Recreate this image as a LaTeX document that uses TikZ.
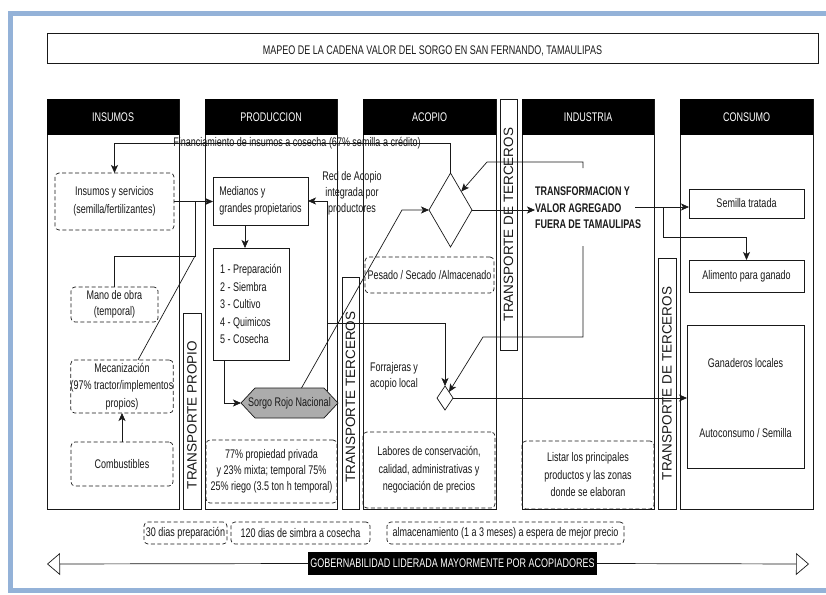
\documentclass[tikz,border=0pt]{standalone}
\usepackage{fontspec}
\setmainfont{Liberation Sans}[FakeStretch=0.72]
\newfontfamily\widefont{Liberation Sans}
\usetikzlibrary{arrows.meta,shapes.geometric}
\definecolor{frameblue}{RGB}{148,178,216}
\definecolor{ink}{RGB}{25,25,25}
\definecolor{hexfill}{RGB}{172,172,172}
\begin{document}
\begin{tikzpicture}[x=1pt,y=-1pt,
  every node/.style={font=\fontsize{12.5}{17.5}\selectfont, inner sep=0pt, outer sep=0pt, text=ink},
  colbox/.style={draw=ink, line width=.7pt, anchor=north west, minimum height=410pt},
  hdr/.style={fill=black, text=white, anchor=north west, minimum height=36pt},
  tbox/.style={draw=ink, line width=.7pt, anchor=north west},
  dbox/.style={draw=ink, line width=.7pt, dash pattern=on 4pt off 2.5pt, rounded corners=4pt},
  sbox/.style={draw=ink, line width=.7pt},
  conn/.style={draw=ink, line width=.7pt},
  flow/.style={draw=ink, line width=.7pt, -{Stealth[length=8pt,width=7pt,inset=2pt]}},
  gar/.style={draw=ink, line width=.7pt, -{Triangle[open,length=13pt,width=22pt]}},
  vtxt/.style={rotate=90, font=\widefont\fontsize{13.5}{13.5}\selectfont},
  dia/.style={diamond, draw=ink, line width=.7pt}
]
\useasboundingbox (0,0) rectangle (826,594);
\fill[white] (0,0) rectangle (826,594);
\draw[frameblue, line width=4.5pt] (826,13.5) -| (10.5,590.5) -- (826,590.5);

% title
\node[tbox, minimum width=771pt, minimum height=30pt] (title) at (47,33) {};
\node (titletxt) at (432.5,51) {MAPEO DE LA CADENA VALOR DEL SORGO EN SAN FERNANDO, TAMAULIPAS};

% columns
\node[colbox, minimum width=132pt] (cIns) at (47,99) {};
\node[hdr, minimum width=132pt] (hIns) at (47,99) {INSUMOS};
\node[colbox, minimum width=132pt] (cPro) at (205,99) {};
\node[hdr, minimum width=132pt] (hPro) at (205,99) {PRODUCCION};
\node[colbox, minimum width=133pt] (cAco) at (363,99) {};
\node[hdr, minimum width=133pt] (hAco) at (363,99) {ACOPIO};
\node[colbox, minimum width=132pt] (cInd) at (522,99) {};
\node[hdr, minimum width=132pt] (hInd) at (522,99) {INDUSTRIA};
\node[colbox, minimum width=133pt] (cCon) at (680,99) {};
\node[hdr, minimum width=133pt] (hCon) at (680,99) {CONSUMO};

% transport bars
\node[tbox, minimum width=18pt, minimum height=196pt] (tProp) at (183,313) {};
\node[vtxt] at ([yshift=-4pt]tProp.center) {TRANSPORTE PROPIO};
\node[tbox, minimum width=17pt, minimum height=232pt] (tTer) at (342,277) {};
\node[vtxt] at ([yshift=-4pt]tTer.center) {TRANSPORTE TERCEROS};
\node[tbox, minimum width=17pt, minimum height=251pt] (tDeT1) at (500,99) {};
\node[vtxt] at (tDeT1.center) {TRANSPORTE DE TERCEROS};
\node[tbox, minimum width=18pt, minimum height=251pt] (tDeT2) at (658,258) {};
\node[vtxt] at (tDeT2.center) {TRANSPORTE DE TERCEROS};

% insumos
\node[dbox, minimum width=119pt, minimum height=57pt, align=center] (insumos) at (114.5,201.5) {Insumos y servicios\\(semilla/fertilizantes)};
\node[dbox, minimum width=87pt, minimum height=35pt, align=center, font=\fontsize{12.5}{16}\selectfont] (mano) at (114.5,304.5) {Mano de obra\\(temporal)};
\node[dbox, minimum width=102pt, minimum height=53pt, align=center] (mecan) at (122,386.5) {Mecanización\\(97\% tractor/implementos\\propios)};
\node[dbox, minimum width=102pt, minimum height=44pt] (comb) at (122,464) {Combustibles};

% produccion
\node[sbox, minimum width=95pt, minimum height=48pt, align=left] (medianos) at (260.5,201) {Medianos y\\grandes propietarios};
\node[sbox, minimum width=76pt, minimum height=112pt, align=left] (pasos) at (251,304) {1 - Preparación\\2 - Siembra\\3 - Cultivo\\4 - Quimicos\\5 - Cosecha};
\node[minimum width=69pt, minimum height=30pt] (sorgo) at (289.5,403) {};
\draw[fill=hexfill, draw=ink, line width=.7pt] ([xshift=-14pt]sorgo.west) -- (sorgo.north west) -- (sorgo.north east) -- ([xshift=14pt]sorgo.east) -- (sorgo.south east) -- (sorgo.south west) -- cycle;
\node (sorgotxt) at (sorgo.center) {Sorgo Rojo Nacional};
\node[dbox, minimum width=131pt, minimum height=63pt, align=center, font=\fontsize{12.5}{16}\selectfont] (p77) at (271.5,471.5) {77\% propiedad privada\\y 23\% mixta; temporal 75\%\\25\% riego (3.5 ton h temporal)};
\node[align=center, font=\fontsize{12.5}{16}\selectfont] (red) at (352,193) {Red de Acopio\\integrada por\\productores};

% acopio
\node[dia, minimum width=43pt, minimum height=74pt] (d1) at (450.5,210) {};
\node[dbox, minimum width=129pt, minimum height=36pt] (pesado) at (429.5,275) {Pesado / Secado /Almacenado};
\node[align=center, font=\fontsize{12.5}{16}\selectfont] (forr) at (394,376) {Forrajeras y\\acopio local};
\node[dia, minimum width=16pt, minimum height=24pt] (d2) at (445,398) {};
\node[dbox, minimum width=132pt, minimum height=76pt, align=center] (labores) at (429,470) {Labores de conservación,\\calidad, administrativas y\\negociación de precios};

% industria
\node[font=\bfseries\fontsize{12.5}{16.5}\selectfont, align=left, anchor=west] (transf) at (535,208) {TRANSFORMACION Y\\VALOR AGREGADO\\FUERA DE TAMAULIPAS};
\node[dbox, minimum width=132pt, minimum height=68pt, align=center] (listar) at (588,475) {Listar los principales\\productos y las zonas\\donde se elaboran};

% consumo
\node[sbox, minimum width=115pt, minimum height=29pt] (semilla) at (746.5,203.5) {Semilla tratada};
\node[sbox, minimum width=115pt, minimum height=32pt] (alimento) at (746.5,276) {Alimento para ganado};
\node[sbox, minimum width=117pt, minimum height=143pt] (ganad) at (745.5,396.5) {};
\node (gloc) at (745.5,363) {Ganaderos locales};
\node (auto) at (745.5,433) {Autoconsumo / Semilla};

% time boxes
\node[dbox, minimum width=83pt, minimum height=22pt] (t30) at (185.5,533) {30 dias preparación};
\node[dbox, minimum width=139pt, minimum height=22pt] (t120) at (300.5,533) {120 dias de simbra a cosecha};
\node[dbox, minimum width=237pt, minimum height=22pt] (talm) at (505.5,533) {almacenamiento (1 a 3 meses) a espera de mejor precio};

% governance bar
\node[fill=black, text=white, inner xsep=2pt, minimum height=23pt] (gob) at (452.5,563.5) {GOBERNABILIDAD LIDERADA MAYORMENTE POR ACOPIADORES};
\coordinate (gl0) at (47,564);
\coordinate (gr0) at (809,564);
\draw[gar] (gob.west) -- (gl0);
\draw[gar] (gob.east) -- (gr0);

% connectors
\coordinate (fin) at (450.5,143);
\draw[flow] (d1.north) -- (fin) -| (insumos.north);
\node (fintxt) at (297,143) {Financiamiento de insumos a cosecha (67\% semilla a crédito)};

\draw[flow] (insumos.east) -- (insumos.east -| medianos.west);
\coordinate (j1) at (195,256);
\draw[conn] (mano.north) |- (j1) -- (j1 |- insumos.east);
\draw[conn] ([xshift=16pt]mecan.north) -- (j1);
\draw[flow] (comb.north) -- (mecan.south);
\draw[flow] ([xshift=-6pt]pasos.north |- medianos.south) -- ([xshift=-6pt]pasos.north);
\coordinate (sW) at ([xshift=-14pt]sorgo.west);
\draw[flow] ([xshift=-27pt]pasos.south) |- (sW);
\coordinate (r1) at (327,391);
\draw[flow] (r1) |- (medianos.east);
\coordinate (k1) at (402,210);
\draw[flow] ([xshift=12pt]sorgo.north) -- (k1) -- (d1.west);
\coordinate (r2) at (327,323);
\draw[flow] (r2) -| (d2.north);
\draw[flow] (d1.east) -- (d1.east -| transf.west);
\coordinate (i1) at (583,168);
\coordinate (i1b) at (487,162);
\draw[flow] (i1) |- (i1b) -- (d1.north east);
\coordinate (i2) at (583,246);
\coordinate (i2b) at (483,337);
\draw[flow] (i2) |- (i2b) -- (d2.north east);
\coordinate (t1) at (635,207);
\draw[flow] (t1) -- (t1 -| semilla.west);
\coordinate (t2) at (663,207);
\draw[flow] (t2) |- ([yshift=23pt]alimento.north) -- (alimento.north);
\draw[flow] (d2.east) -- (d2.east -| ganad.west);
\end{tikzpicture}
\end{document}
